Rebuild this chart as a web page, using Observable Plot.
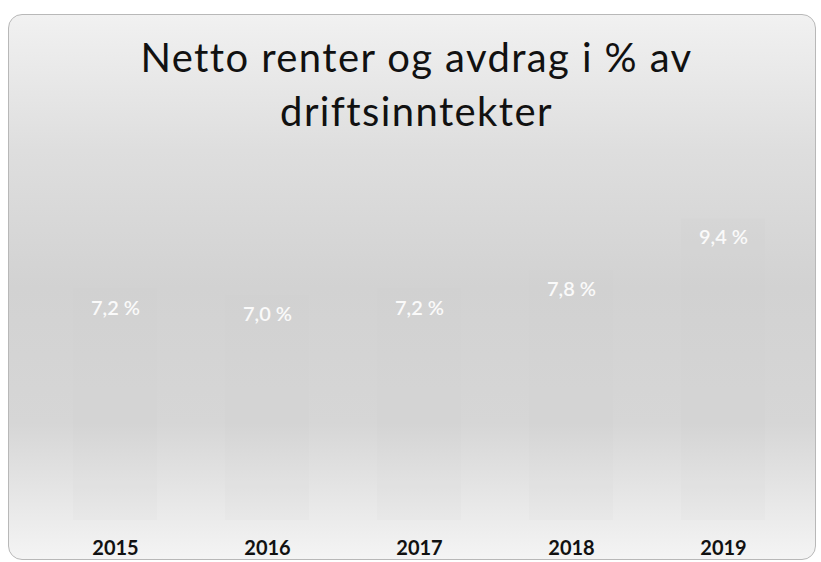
<!DOCTYPE html>
<html>
<head>
<meta charset="utf-8">
<script src="https://cdn.jsdelivr.net/npm/d3@7"></script>
<script src="https://cdn.jsdelivr.net/npm/@observablehq/plot@0.6"></script>
<style>
  html, body { margin: 0; padding: 0; background: #fff; }
  #frame {
    position: absolute; left: 8px; top: 14px; width: 806px; height: 544px;
    border: 1px solid #b8b8b8; border-radius: 14px; overflow: hidden;
    background: linear-gradient(to bottom, #f1f1f1 0%, #dedede 25%, #d2d2d2 50%, #d6d6d6 75%, #f4f4f4 100%);
  }
  #title {
    position: absolute; left: 0; top: 30px; width: 833px; text-align: center;
    font-family: Lato, "Open Sans", sans-serif; font-size: 40px; line-height: 54px; color: #111;
    letter-spacing: 1.4px;
  }
  #chart { position: absolute; left: 0; top: 150px; }
</style>
</head>
<body>
<div id="frame"></div>
<div id="title">Netto renter og avdrag i % av<br>driftsinntekter</div>
<div id="chart"></div>
<script>
const years = ["2015", "2016", "2017", "2018", "2019"];
const values = [7.2, 7.0, 7.2, 7.8, 9.4];
const labels = ["7,2 %", "7,0 %", "7,2 %", "7,8 %", "9,4 %"];

const data = years.map((y, i) => ({year: y, value: values[i], label: labels[i]}));

const chart = Plot.plot({
  width: 821,
  height: 412,
  marginLeft: 39,
  marginRight: 22,
  marginTop: 49,
  marginBottom: 42,
  style: {background: "transparent", fontFamily: "Lato, 'Open Sans', sans-serif"},
  x: {domain: years, paddingInner: 0.45, paddingOuter: 0.225, label: null},
  y: {domain: [0, 10], axis: null},
  marks: [
    Plot.barY(data, {x: "year", y: "value", fill: "#c4c4c4", fillOpacity: 0.07}),
    Plot.text(data, {x: "year", y: "value", text: "label", dy: 19, fill: "#fafafa", fontSize: 20, fontWeight: 600}),
    Plot.axisX({tickSize: 0, tickPadding: 20, fontSize: 20, fontWeight: "bold", fill: "#111", label: null})
  ]
});
document.getElementById("chart").appendChild(chart);
</script>
</body>
</html>
